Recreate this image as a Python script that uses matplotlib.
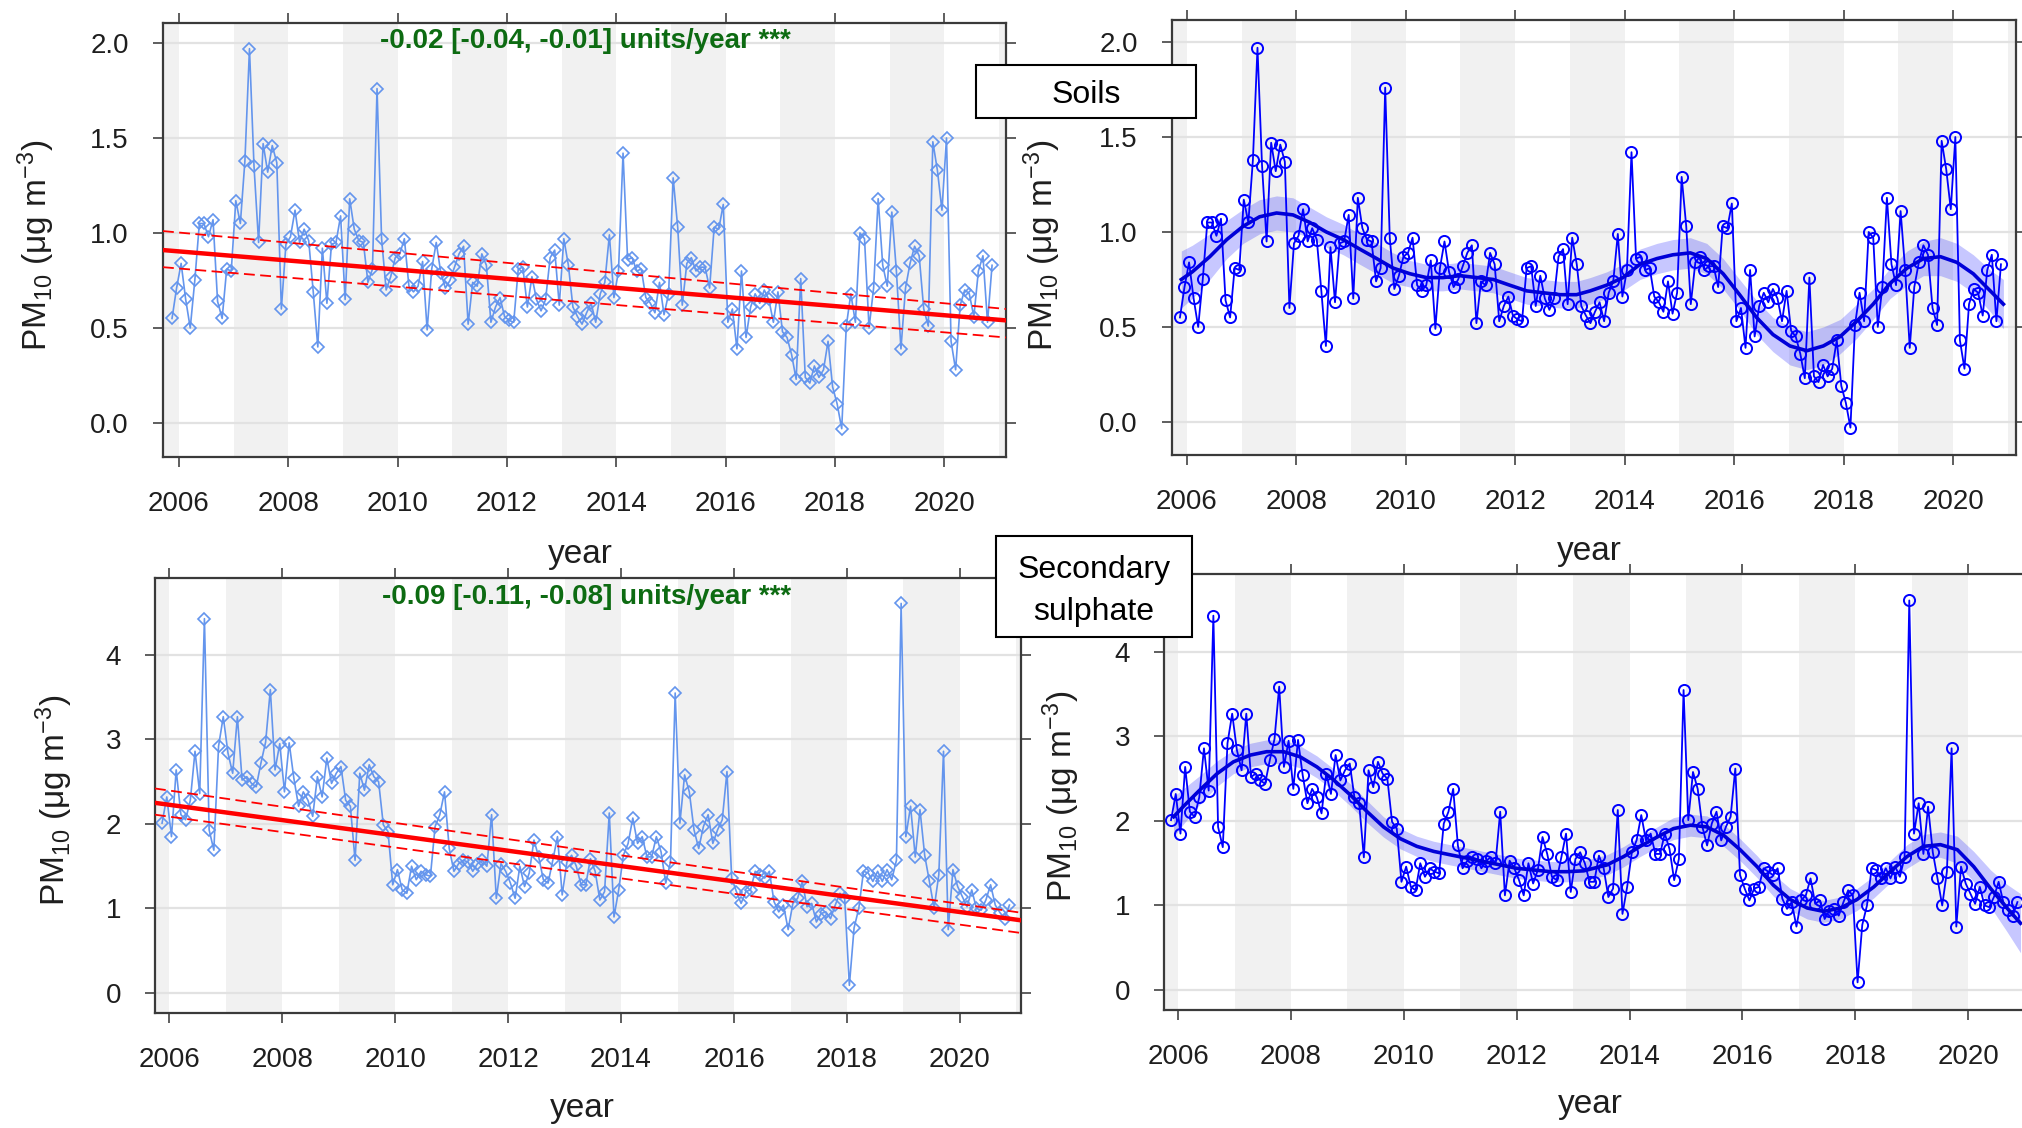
import numpy as np
import matplotlib
matplotlib.use('Agg')
import matplotlib.pyplot as plt
from matplotlib.patches import Rectangle

plt.rcParams['font.family'] = ['Liberation Sans', 'DejaVu Sans']
plt.rcParams['mathtext.default'] = 'regular'

W, H = 2022, 1128

# monthly PM10 source contributions (ug m-3), first month plotted at 2005.875
soils = [0.55, 0.71, 0.84, 0.65, 0.50, 0.75, 1.05, 1.05, 0.98, 1.07,
         0.64, 0.55, 0.81, 0.80, 1.17, 1.05, 1.38, 1.97, 1.35, 0.95,
         1.47, 1.32, 1.46, 1.37, 0.60, 0.94, 0.98, 1.12, 0.95, 1.02,
         0.96, 0.69, 0.40, 0.92, 0.63, 0.94, 0.95, 1.09, 0.65, 1.18,
         1.02, 0.96, 0.95, 0.74, 0.81, 1.76, 0.97, 0.70, 0.77, 0.87,
         0.89, 0.97, 0.72, 0.69, 0.72, 0.85, 0.49, 0.81, 0.95, 0.79,
         0.71, 0.75, 0.82, 0.89, 0.93, 0.52, 0.74, 0.72, 0.89, 0.83,
         0.53, 0.61, 0.66, 0.56, 0.54, 0.53, 0.81, 0.82, 0.61, 0.77,
         0.65, 0.59, 0.65, 0.87, 0.91, 0.62, 0.97, 0.83, 0.61, 0.56,
         0.52, 0.58, 0.63, 0.53, 0.68,
         0.74, 0.99, 0.66, 0.80, 1.42, 0.86, 0.87, 0.80, 0.81, 0.66,
         0.63, 0.58, 0.74, 0.57, 0.68, 1.29, 1.03, 0.62, 0.84, 0.87,
         0.80, 0.82, 0.82, 0.71, 1.03, 1.02, 1.15, 0.53, 0.60, 0.39,
         0.80, 0.45, 0.61, 0.68, 0.63, 0.70, 0.65, 0.53, 0.69, 0.48,
         0.45, 0.36, 0.23, 0.76, 0.24, 0.21, 0.30, 0.24, 0.28,
         0.43, 0.19, 0.10, -0.03, 0.51, 0.68, 0.53, 1.00, 0.97, 0.50,
         0.71, 1.18, 0.83, 0.72, 1.11, 0.80, 0.39, 0.71, 0.84, 0.93,
         0.88, 0.60, 0.51, 1.48, 1.33, 1.12, 1.50, 0.43, 0.28, 0.62,
         0.70, 0.68, 0.56, 0.80, 0.88, 0.53, 0.83]

sulphate = [2.01, 2.32, 1.85, 2.64, 2.11, 2.05, 2.28, 2.86, 2.36, 4.43,
            1.93, 1.69, 2.92, 3.27, 2.84, 2.60, 3.27, 2.52, 2.56, 2.48,
            2.44, 2.72, 2.97, 3.59, 2.64, 2.95, 2.38, 2.96, 2.54, 2.21,
            2.38, 2.28, 2.09, 2.56, 2.32, 2.78, 2.48, 2.60, 2.68, 2.28,
            2.21, 1.57, 2.60, 2.40, 2.70, 2.56, 2.50, 1.99, 1.91, 1.28,
            1.46, 1.22, 1.18, 1.50, 1.34, 1.44, 1.40, 1.38, 1.97, 2.11,
            2.38, 1.71, 1.44, 1.53, 1.57, 1.55, 1.44, 1.53, 1.57, 1.50,
            2.11, 1.12, 1.53, 1.44, 1.30, 1.12, 1.50, 1.26, 1.42, 1.81,
            1.61, 1.34, 1.30, 1.57, 1.85, 1.16, 1.55, 1.63, 1.50, 1.28,
            1.28, 1.59, 1.44, 1.10, 1.20,
            2.13, 0.90, 1.22, 1.63, 1.77, 2.07, 1.77, 1.85, 1.61, 1.61,
            1.85, 1.67, 1.30, 1.55, 3.55, 2.01, 2.58, 2.38, 1.93, 1.71,
            1.97, 2.11, 1.77, 1.93, 2.05, 2.62, 1.36, 1.20, 1.06, 1.20,
            1.22, 1.44, 1.40, 1.36, 1.44, 1.08, 0.96, 1.04, 0.75, 1.06,
            1.12, 1.32, 1.02, 1.06, 0.84, 0.94, 0.96, 0.88, 1.04, 1.18,
            1.12, 0.09, 0.77, 1.00, 1.44, 1.42, 1.32, 1.44, 1.32, 1.46,
            1.34, 1.57, 4.61, 1.85, 2.21, 1.61, 2.17, 1.63, 1.32, 1.00,
            1.40, 2.86, 0.75, 1.46, 1.26, 1.14, 1.02, 1.22, 1.00, 0.98,
            1.10, 1.28, 1.04, 0.95, 0.88, 1.04]

months = 2005.875 + np.arange(len(soils)) / 12.0

# Theil-Sen trend read at the panel edges: [left, right]
soil_trend = [0.91, 0.54]
soil_trend_hi = [1.01, 0.60]
soil_trend_lo = [0.82, 0.45]
sulph_trend = [2.25, 0.86]
sulph_trend_hi = [2.42, 0.95]
sulph_trend_lo = [2.11, 0.71]

soil_label = '-0.02 [-0.04, -0.01] units/year ***'
sulph_label = '-0.09 [-0.11, -0.08] units/year ***'

# smooth trend and half width of its band
soil_sx = [2005.90, 2006.10, 2006.42, 2006.73, 2007.03, 2007.33, 2007.64, 2007.94, 2008.25, 2008.55,
           2008.86, 2009.16, 2009.47, 2009.77, 2010.08, 2010.38, 2010.68, 2010.99, 2011.30, 2011.60,
           2011.90, 2012.21, 2012.51, 2012.82, 2013.12, 2013.37, 2013.67, 2013.97, 2014.28, 2014.59,
           2014.88, 2015.20, 2015.50, 2015.80, 2016.10, 2016.41, 2016.71, 2017.02, 2017.33, 2017.63,
           2017.94, 2018.24, 2018.54, 2018.85, 2019.16, 2019.46, 2019.77, 2020.07, 2020.37, 2020.68,
           2020.92]
soil_sy = [0.75, 0.79, 0.87, 0.96, 1.03, 1.08, 1.10, 1.09, 1.05, 1.00,
           0.96, 0.91, 0.86, 0.81, 0.78, 0.76, 0.76, 0.77, 0.76, 0.75,
           0.72, 0.69, 0.68, 0.67, 0.67, 0.69, 0.72, 0.76, 0.83, 0.86,
           0.88, 0.89, 0.86, 0.78, 0.67, 0.55, 0.46, 0.40, 0.375, 0.40,
           0.45, 0.53, 0.62, 0.73, 0.81, 0.86, 0.87, 0.84, 0.78, 0.69,
           0.62]
soil_band = [0.15, 0.14, 0.12, 0.10, 0.09, 0.09, 0.09, 0.09, 0.08, 0.08,
             0.08, 0.08, 0.08, 0.08, 0.07, 0.07, 0.07, 0.07, 0.07, 0.07,
             0.07, 0.07, 0.07, 0.07, 0.07, 0.07, 0.07, 0.07, 0.08, 0.08,
             0.08, 0.08, 0.08, 0.08, 0.08, 0.09, 0.09, 0.10, 0.10, 0.10,
             0.09, 0.09, 0.08, 0.08, 0.09, 0.09, 0.10, 0.10, 0.10, 0.11,
             0.13]

sulph_sx = [2005.92, 2006.09, 2006.39, 2006.69, 2006.98, 2007.28, 2007.57, 2007.87, 2008.16, 2008.46,
            2008.75, 2009.05, 2009.35, 2009.64, 2009.94, 2010.23, 2010.53, 2010.82, 2011.12, 2011.41,
            2011.71, 2012.00, 2012.30, 2012.60, 2012.89, 2013.19, 2013.60, 2013.90, 2014.19, 2014.49,
            2014.78, 2015.08, 2015.37, 2015.67, 2015.96, 2016.26, 2016.55, 2016.85, 2017.15, 2017.44,
            2017.74, 2018.03, 2018.33, 2018.62, 2018.92, 2019.21, 2019.51, 2019.81, 2020.10, 2020.40,
            2020.69, 2020.93]
sulph_sy = [2.05, 2.17, 2.37, 2.56, 2.70, 2.78, 2.82, 2.82, 2.76, 2.64,
            2.49, 2.31, 2.11, 1.93, 1.79, 1.70, 1.64, 1.60, 1.56, 1.52,
            1.48, 1.44, 1.42, 1.40, 1.40, 1.41, 1.48, 1.58, 1.70, 1.81,
            1.91, 1.95, 1.93, 1.83, 1.66, 1.46, 1.24, 1.07, 0.97, 0.93,
            0.97, 1.07, 1.22, 1.40, 1.58, 1.70, 1.72, 1.66, 1.46, 1.20,
            0.97, 0.79]
sulph_band = [0.24, 0.21, 0.17, 0.15, 0.14, 0.14, 0.14, 0.14, 0.13, 0.13,
              0.13, 0.13, 0.13, 0.12, 0.12, 0.12, 0.12, 0.12, 0.12, 0.12,
              0.12, 0.12, 0.12, 0.12, 0.12, 0.12, 0.12, 0.12, 0.12, 0.12,
              0.13, 0.13, 0.13, 0.13, 0.13, 0.13, 0.13, 0.13, 0.13, 0.13,
              0.13, 0.13, 0.13, 0.13, 0.14, 0.14, 0.15, 0.16, 0.18, 0.22,
              0.28, 0.35]

LIGHT = '#6495ed'
BLUE = '#0000ff'
GREEN = '#0d6b12'
TXT = '#1e1e1e'

fig = plt.figure(figsize=(W / 100, H / 100), dpi=100)


def px_axes(x0, y0, x1, y1):
    return fig.add_axes([x0 / W, 1 - y1 / H, (x1 - x0) / W, (y1 - y0) / H])


def fig_text(x, y, s, color=TXT, **kw):
    return fig.text(x / W, 1 - y / H, s, ha='center', va='center', color=color, **kw)


def style(ax, xlim, ylim, yticks, ylabels):
    ax.set_xlim(xlim)
    ax.set_ylim(ylim)
    for yr in range(2005, 2022, 2):
        ax.axvspan(yr, yr + 1, color='#f1f1f1', lw=0, zorder=0)
    ax.set_axisbelow(True)
    ax.grid(axis='y', color='#e2e2e2', lw=1.6)
    ax.set_yticks(yticks)
    ax.set_yticklabels(ylabels)
    ax.set_xticks(range(2006, 2021, 2))
    ax.tick_params(direction='out', length=7.5, width=1.1, top=True, right=True,
                   labelsize=20, colors='#333333', labelcolor=TXT)
    ax.tick_params(axis='y', pad=17)
    ax.tick_params(axis='x', pad=17)
    for s in ax.spines.values():
        s.set_linewidth(1.6)
        s.set_color('#3a3a3a')


def smooth_panel(ax, sx, sy, band, values):
    lo = np.array(sy) - np.array(band)
    hi = np.array(sy) + np.array(band)
    ax.fill_between(sx, lo, hi, color=BLUE, alpha=0.22, lw=0, zorder=1.5)
    ax.plot(months, values, color=BLUE, lw=1.3, marker='o', ms=8, mfc='none', mec=BLUE, mew=1.4, zorder=2)
    ax.plot(sx, sy, color='#0000d8', lw=2.6, zorder=3)


def theilsen_panel(ax, xl, values, trend, hi, lo):
    ax.plot(months, values, color=LIGHT, lw=1.2, marker='D', ms=6.3, mfc='none', mec=LIGHT, mew=1.2, zorder=2)
    ax.plot(xl, trend, color='red', lw=3.2, zorder=3)
    ax.plot(xl, hi, color='red', lw=1.3, ls=(0, (6, 3)), zorder=3)
    ax.plot(xl, lo, color='red', lw=1.3, ls=(0, (6, 3)), zorder=3)


ylab = r'PM$_{10}$ (μg m$^{-3}$)'
top_ticks = [0, 0.5, 1.0, 1.5, 2.0]
top_labels = ['0.0', '0.5', '1.0', '1.5', '2.0']
bot_ticks = [0, 1, 2, 3, 4]
bot_labels = ['0', '1', '2', '3', '4']

# top left: Theil-Sen, soils
ax = px_axes(163, 23, 1006, 457)
xl = (2005.71, 2021.13)
style(ax, xl, (-0.179, 2.105), top_ticks, top_labels)
theilsen_panel(ax, xl, soils, soil_trend, soil_trend_hi, soil_trend_lo)
fig_text(585, 41, soil_label, color=GREEN, fontsize=20, fontweight='bold')
fig_text(580, 554, 'year', fontsize=24)
fig_text(36, 245, ylab, fontsize=24, rotation=90)

# top right: smooth trend, soils
ax = px_axes(1172, 20, 2016, 455)
style(ax, (2005.73, 2021.15), (-0.174, 2.116), top_ticks, top_labels)
smooth_panel(ax, soil_sx, soil_sy, soil_band, soils)
fig_text(1589, 552, 'year', fontsize=24)
fig_text(1042, 245, ylab, fontsize=24, rotation=90)

# bottom left: Theil-Sen, secondary sulphate
ax = px_axes(155, 578, 1021, 1013)
xl = (2005.75, 2021.08)
style(ax, xl, (-0.237, 4.911), bot_ticks, bot_labels)
theilsen_panel(ax, xl, sulphate, sulph_trend, sulph_trend_hi, sulph_trend_lo)
fig_text(587, 597, sulph_label, color=GREEN, fontsize=20, fontweight='bold')
fig_text(582, 1109, 'year', fontsize=24)
fig_text(54, 800, ylab, fontsize=24, rotation=90)

# bottom right: smooth trend, secondary sulphate (cut off at the right edge)
ax = px_axes(1164, 574, 2029, 1010)
style(ax, (2005.75, 2021.08), (-0.237, 4.923), bot_ticks, bot_labels)
smooth_panel(ax, sulph_sx, sulph_sy, sulph_band, sulphate)
fig_text(1590, 1105, 'year', fontsize=24)
fig_text(1061, 796, ylab, fontsize=24, rotation=90)

# source name boxes
for (x0, y0, x1, y1), name, ty in [((976, 65, 1196, 118), 'Soils', 95),
                                    ((996, 536, 1192, 637), 'Secondary\nsulphate', 591)]:
    fig.add_artist(Rectangle((x0 / W, 1 - y1 / H), (x1 - x0) / W, (y1 - y0) / H,
                             transform=fig.transFigure, facecolor='white', edgecolor='black',
                             lw=1.5, zorder=10))
    fig.text((x0 + x1) / 2 / W, 1 - ty / H, name, ha='center', va='center',
             fontsize=23, color='black', linespacing=1.55, zorder=11)

fig.savefig('out.png', dpi=100)
